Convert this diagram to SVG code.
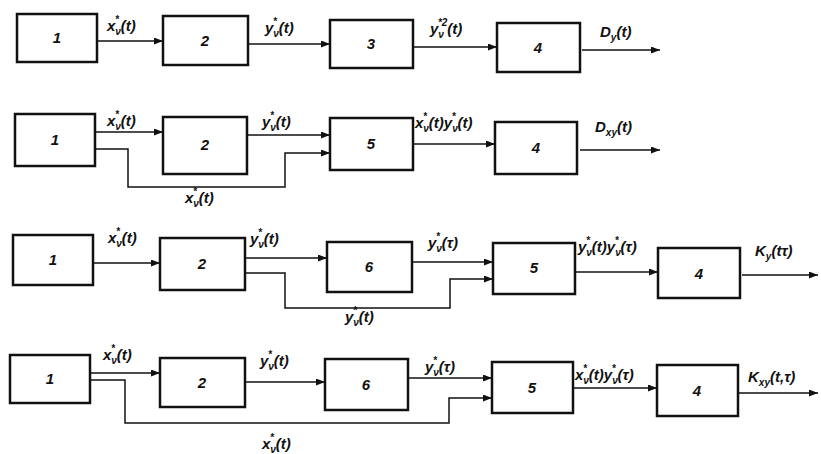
<svg xmlns="http://www.w3.org/2000/svg" width="821" height="454" viewBox="0 0 821 454">
<style>
.box{fill:#fff;stroke:#111;stroke-width:2.5}
.num{font-family:"Liberation Sans",Arial,sans-serif;font-style:italic;font-weight:bold;font-size:15px;text-anchor:middle;fill:#111}
.lbl{font-family:"Liberation Sans",Arial,sans-serif;font-style:italic;font-weight:bold;font-size:15px;fill:#111}
.s{font-size:10px}
.c{fill:none;stroke:#111;stroke-width:1.5;marker-end:url(#a)}
</style>
<defs>
<marker id="a" markerUnits="userSpaceOnUse" markerWidth="9" markerHeight="7" refX="9" refY="3.5" orient="auto">
<path d="M0,0 L9,3.5 L0,7 z" fill="#111"/>
</marker>
</defs>
<g id="connectors">
<path class="c" d="M97,41 H163"/>
<path class="c" d="M248,44 H330"/>
<path class="c" d="M413,47 H497"/>
<path class="c" d="M582,50 H660"/>
<path class="c" d="M95,132 H163"/>
<path class="c" d="M247,135 H330"/>
<path class="c" d="M95,149 H128 V187 H285 V153 H330"/>
<path class="c" d="M413,144 H495"/>
<path class="c" d="M580,150 H660"/>
<path class="c" d="M93,263 H160"/>
<path class="c" d="M245,258 H327"/>
<path class="c" d="M245,273 H285 V308 H450 V279 H493"/>
<path class="c" d="M412,262 H493"/>
<path class="c" d="M575,272 H658"/>
<path class="c" d="M742,275 H818"/>
<path class="c" d="M90,373 H160"/>
<path class="c" d="M245,382 H325"/>
<path class="c" d="M90,380 H125 V423 H449 V398 H492"/>
<path class="c" d="M408,378 H492"/>
<path class="c" d="M573,388 H657"/>
<path class="c" d="M738,393 H818"/>
</g>
<g id="labels">
<text class="lbl" x="107" y="31">x<tspan class="s" dy="4">ν</tspan><tspan class="s" dx="-6" dy="-12">*</tspan><tspan dy="8" dx="2">(t)</tspan></text>
<text class="lbl" x="265" y="33">y<tspan class="s" dy="4">ν</tspan><tspan class="s" dx="-6" dy="-12">*</tspan><tspan dy="8" dx="2">(t)</tspan></text>
<text class="lbl" x="430" y="34">y<tspan class="s" dy="4">ν</tspan><tspan class="s" dx="-6" dy="-12">*2</tspan><tspan dy="8">(t)</tspan></text>
<text class="lbl" x="600" y="37">D<tspan class="s" dy="4">y</tspan><tspan dy="-4">(t)</tspan></text>
<text class="lbl" x="107" y="126">x<tspan class="s" dy="4">ν</tspan><tspan class="s" dx="-6" dy="-12">*</tspan><tspan dy="8" dx="2">(t)</tspan></text>
<text class="lbl" x="262" y="127">y<tspan class="s" dy="4">ν</tspan><tspan class="s" dx="-6" dy="-12">*</tspan><tspan dy="8" dx="2">(t)</tspan></text>
<text class="lbl" x="415" y="128">x<tspan class="s" dy="4">ν</tspan><tspan class="s" dx="-6" dy="-12">*</tspan><tspan dy="8" dx="2">(t)y</tspan><tspan class="s" dy="4">ν</tspan><tspan class="s" dx="-6" dy="-12">*</tspan><tspan dy="8" dx="2">(t)</tspan></text>
<text class="lbl" x="595" y="132">D<tspan class="s" dy="4">xy</tspan><tspan dy="-4">(t)</tspan></text>
<text class="lbl" x="185" y="203">x<tspan class="s" dy="4">ν</tspan><tspan class="s" dx="-6" dy="-12">*</tspan><tspan dy="8" dx="2">(t)</tspan></text>
<text class="lbl" x="108" y="243">x<tspan class="s" dy="4">ν</tspan><tspan class="s" dx="-6" dy="-12">*</tspan><tspan dy="8" dx="2">(t)</tspan></text>
<text class="lbl" x="250" y="244">y<tspan class="s" dy="4">ν</tspan><tspan class="s" dx="-6" dy="-12">*</tspan><tspan dy="8" dx="2">(t)</tspan></text>
<text class="lbl" x="428" y="248">y<tspan class="s" dy="4">ν</tspan><tspan class="s" dx="-6" dy="-12">*</tspan><tspan dy="8" dx="2">(τ)</tspan></text>
<text class="lbl" x="578" y="252">y<tspan class="s" dy="4">ν</tspan><tspan class="s" dx="-6" dy="-12">*</tspan><tspan dy="8" dx="2">(t)y</tspan><tspan class="s" dy="4">ν</tspan><tspan class="s" dx="-6" dy="-12">*</tspan><tspan dy="8" dx="2">(τ)</tspan></text>
<text class="lbl" x="755" y="256">K<tspan class="s" dy="4">y</tspan><tspan dy="-4">(tτ)</tspan></text>
<text class="lbl" x="345" y="322">y<tspan class="s" dy="4">ν</tspan><tspan class="s" dx="-6" dy="-12">*</tspan><tspan dy="8" dx="2">(t)</tspan></text>
<text class="lbl" x="103" y="360">x<tspan class="s" dy="4">ν</tspan><tspan class="s" dx="-6" dy="-12">*</tspan><tspan dy="8" dx="2">(t)</tspan></text>
<text class="lbl" x="260" y="366">y<tspan class="s" dy="4">ν</tspan><tspan class="s" dx="-6" dy="-12">*</tspan><tspan dy="8" dx="2">(t)</tspan></text>
<text class="lbl" x="425" y="372">y<tspan class="s" dy="4">ν</tspan><tspan class="s" dx="-6" dy="-12">*</tspan><tspan dy="8" dx="2">(τ)</tspan></text>
<text class="lbl" x="575" y="380">x<tspan class="s" dy="4">ν</tspan><tspan class="s" dx="-6" dy="-12">*</tspan><tspan dy="8" dx="2">(t)y</tspan><tspan class="s" dy="4">ν</tspan><tspan class="s" dx="-6" dy="-12">*</tspan><tspan dy="8" dx="2">(τ)</tspan></text>
<text class="lbl" x="748" y="382">K<tspan class="s" dy="4">xy</tspan><tspan dy="-4">(t,τ)</tspan></text>
<text class="lbl" x="262" y="449">x<tspan class="s" dy="4">ν</tspan><tspan class="s" dx="-6" dy="-12">*</tspan><tspan dy="8" dx="2">(t)</tspan></text>
</g>
<g id="r1b1"><rect class="box" x="17" y="14" width="80" height="48"/><text class="num" x="57" y="43">1</text></g>
<g id="r1b2"><rect class="box" x="163" y="16" width="85" height="49"/><text class="num" x="205" y="46">2</text></g>
<g id="r1b3"><rect class="box" x="330" y="20" width="83" height="48"/><text class="num" x="371" y="49">3</text></g>
<g id="r1b4"><rect class="box" x="497" y="23" width="83" height="49"/><text class="num" x="538" y="53">4</text></g>
<g id="r2b1"><rect class="box" x="15" y="114" width="80" height="52"/><text class="num" x="55" y="145">1</text></g>
<g id="r2b2"><rect class="box" x="163" y="117" width="84" height="57"/><text class="num" x="205" y="150">2</text></g>
<g id="r2b5"><rect class="box" x="330" y="118" width="83" height="52"/><text class="num" x="371" y="149">5</text></g>
<g id="r2b4"><rect class="box" x="495" y="122" width="82" height="52"/><text class="num" x="536" y="153">4</text></g>
<g id="r3b1"><rect class="box" x="13" y="235" width="80" height="50"/><text class="num" x="53" y="265">1</text></g>
<g id="r3b2"><rect class="box" x="160" y="238" width="85" height="52"/><text class="num" x="202" y="269">2</text></g>
<g id="r3b6"><rect class="box" x="327" y="242" width="85" height="50"/><text class="num" x="369" y="272">6</text></g>
<g id="r3b5"><rect class="box" x="493" y="243" width="82" height="51"/><text class="num" x="534" y="273">5</text></g>
<g id="r3b4"><rect class="box" x="658" y="248" width="82" height="50"/><text class="num" x="699" y="279">4</text></g>
<g id="r4b1"><rect class="box" x="10" y="355" width="80" height="48"/><text class="num" x="50" y="384">1</text></g>
<g id="r4b2"><rect class="box" x="160" y="358" width="85" height="49"/><text class="num" x="202" y="388">2</text></g>
<g id="r4b6"><rect class="box" x="325" y="359" width="83" height="51"/><text class="num" x="366" y="390">6</text></g>
<g id="r4b5"><rect class="box" x="492" y="362" width="81" height="51"/><text class="num" x="532" y="393">5</text></g>
<g id="r4b4"><rect class="box" x="657" y="365" width="81" height="51"/><text class="num" x="697" y="396">4</text></g>
</svg>
